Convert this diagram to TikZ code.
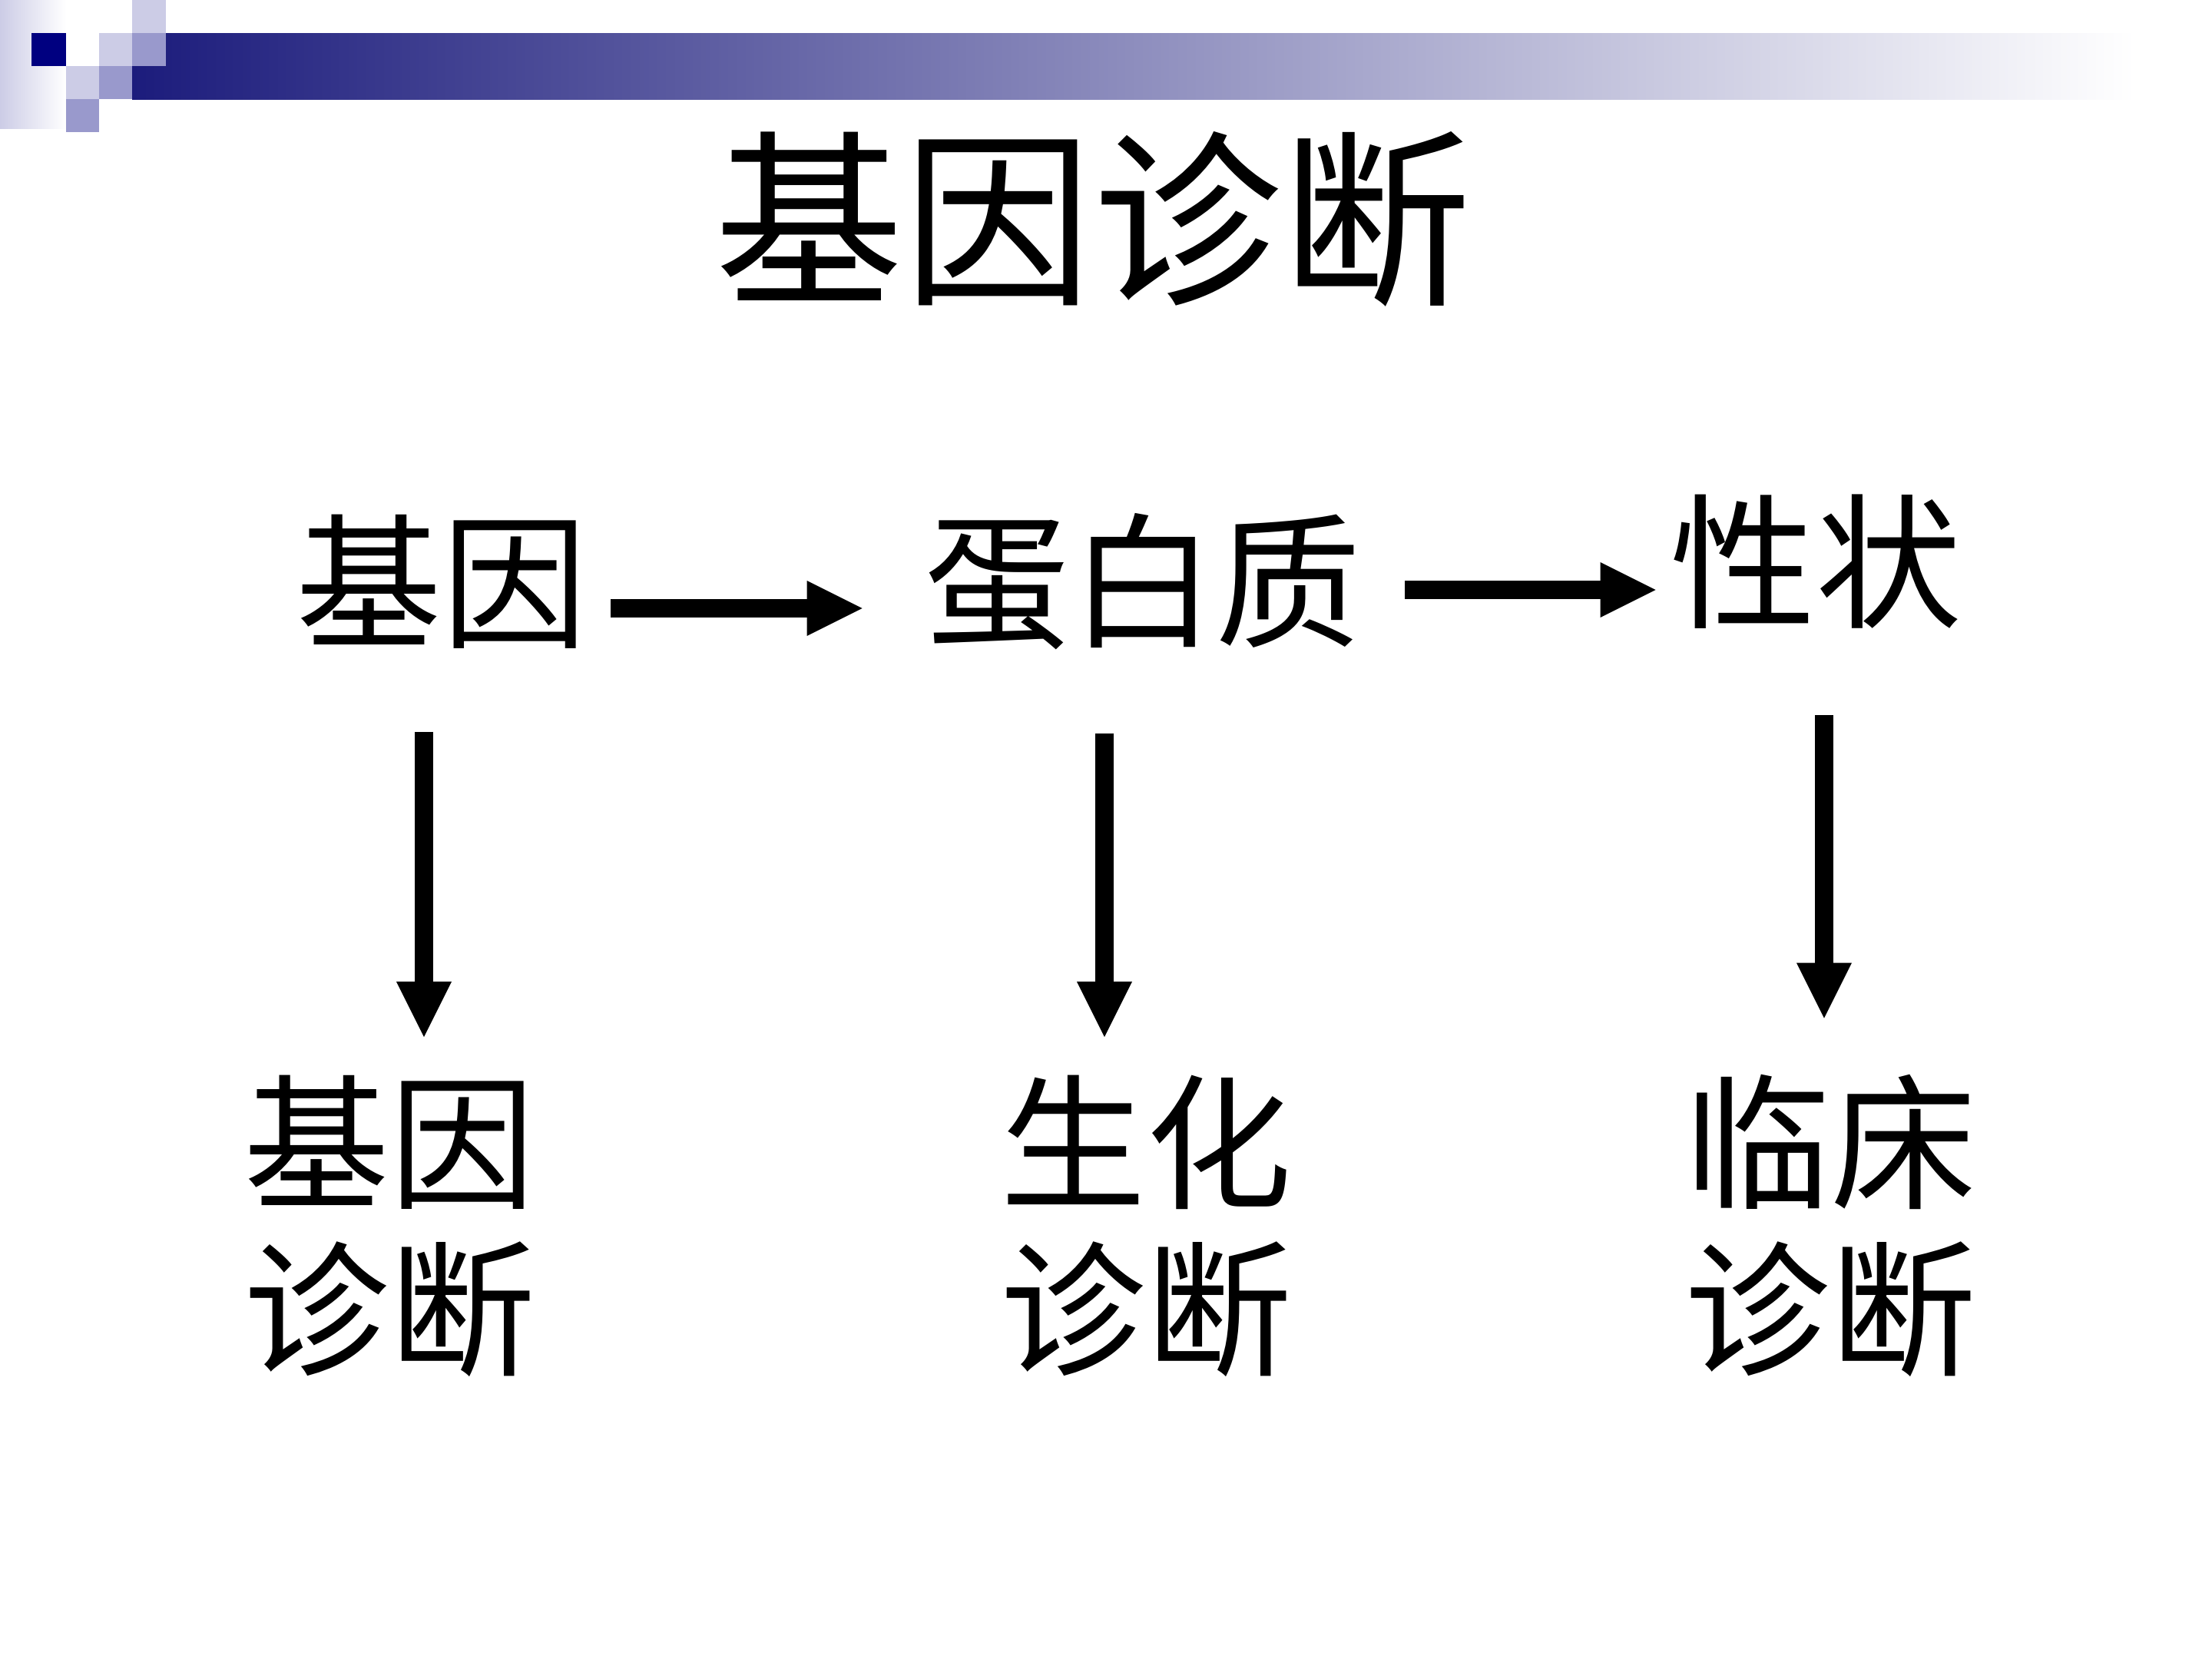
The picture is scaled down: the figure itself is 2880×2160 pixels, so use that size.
\documentclass[tikz,border=0pt]{standalone}
\usepackage{fontspec}
\newfontfamily\cjk{Noto Sans CJK SC}
\usetikzlibrary{arrows.meta,positioning}
\definecolor{navybar}{HTML}{1C1C7C}
\definecolor{lightsq}{HTML}{CCCCE6}
\definecolor{midsq}{HTML}{9999CC}
\definecolor{darksq}{HTML}{000080}

\begin{document}
\begin{tikzpicture}[
      x=0.1mm, y=-0.1mm,
      title/.style={font=\cjk\fontsize{70}{82}\selectfont, inner sep=0pt},
      word/.style={font=\cjk\fontsize{54}{61.7}\selectfont, inner sep=0pt, align=center},
      arrow/.style={-{Triangle[length=0.72cm,width=0.72cm,line width=0pt]}, line width=0.24cm}
    ]
    \useasboundingbox (0,0) rectangle (2880,2160);

    % corner decoration
    \shade[left color=lightsq, right color=white] (0,0) rectangle (86,167);
    \shade[left color=navybar, right color=white] (172,43) rectangle (2780,129);
    \fill[darksq] (41,43) rectangle (86,86);
    \fill[lightsq] (129,43) rectangle (172,86);
    \fill[lightsq] (172,0) rectangle (216,43);
    \fill[midsq] (172,43) rectangle (216,86);
    \fill[lightsq] (86,86) rectangle (129,129);
    \fill[midsq] (129,86) rectangle (172,129);
    \fill[midsq] (86,129) rectangle (129,172);

    \node[title] (head) at (1423,285) {基因诊断};

    \node[word] (gene) at (575,757) {基因};
    \node[word] (protein) at (1488,757) {蛋白质};
    \node[word] (trait) at (2364,731) {性状};

    \node[word] (genediag) at (507,1596) {基因\\诊断};
    \node[word] (biodiag) at (1492,1596) {生化\\诊断};
    \node[word] (clindiag) at (2383,1596) {临床\\诊断};

    \draw[arrow, shorten <=0.30cm, shorten >=0.80cm] ([yshift=-0.35cm]gene.east) -- ([yshift=-0.35cm]protein.west);
    \draw[arrow, shorten <=0.56cm, shorten >=0.18cm] ([yshift=-0.11cm]protein.east) -- ([yshift=-0.11cm]protein.east -| trait.west);

    \draw[arrow, shorten <=1.08cm, shorten >=0.49cm] ([xshift=-0.23cm]gene.south) -- ([xshift=-0.23cm]gene.south |- genediag.north);
    \draw[arrow, shorten <=1.08cm, shorten >=0.49cm] ([xshift=-0.50cm]protein.south) -- ([xshift=-0.50cm]protein.south |- biodiag.north);
    \draw[arrow, shorten <=1.12cm, shorten >=0.73cm] ([xshift=0.11cm]trait.south) -- ([xshift=0.11cm]trait.south |- clindiag.north);
  \end{tikzpicture}
\end{document}
